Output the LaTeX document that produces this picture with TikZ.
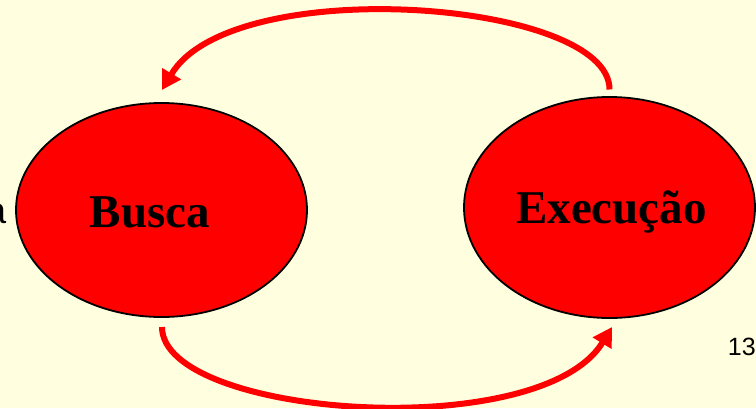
\documentclass[tikz,border=0pt]{standalone}
\usepackage{fontspec}
\setmainfont{Liberation Serif}
\newfontfamily\sansf{Liberation Sans}
\usetikzlibrary{shapes.geometric,arrows.meta}
\definecolor{bgyellow}{RGB}{255,255,224}
\definecolor{pred}{RGB}{255,0,0}
\tikzset{
  stage/.style={ellipse,draw=black,line width=1.8pt,fill=pred,inner sep=0pt,outer sep=0pt},
  stagetext/.style={font=\fontsize{47}{50}\selectfont\bfseries,text=black,anchor=base,inner sep=0pt},
  cyclearrow/.style={draw=pred,line width=6pt,-{Triangle[length=19pt,width=21pt]}},
}
\begin{document}
\begin{tikzpicture}[x=1pt,y=-1pt]
  \fill[bgyellow] (0,0) rectangle (756,408);
  \useasboundingbox (0,0) rectangle (756,408);
  \node[font=\sansf\fontsize{37}{40}\selectfont,anchor=base east,inner sep=0pt] (cut) at (6.5,223) {a};
  \node[stage,minimum width=291pt,minimum height=214pt] (busca) at (161.5,210) {};
  \node[stage,minimum width=291pt,minimum height=221pt] (exec) at (609.5,207.5) {};
  \node[stagetext] (tbusca) at (150,227) {Busca};
  \node[stagetext] (texec) at (611.5,223) {Execução};
  \node[font=\sansf\fontsize{25}{28}\selectfont,anchor=base east,inner sep=0pt] (page) at (756,355) {13};
  \coordinate (topstart) at ([yshift=7.5pt]exec.north);
  \coordinate (topend) at ([yshift=13pt,xshift=0.5pt]busca.north);
  \coordinate (botstart) at ([yshift=-10pt,xshift=0.5pt]busca.south);
  \coordinate (botend) at ([yshift=-9pt,xshift=2.5pt]exec.south);
  \draw[cyclearrow] (topstart) .. controls (610,0) and (232,-28) .. (topend);
  \draw[cyclearrow] (botstart) .. controls (162,417) and (540,445) .. (botend);
\end{tikzpicture}
\end{document}
